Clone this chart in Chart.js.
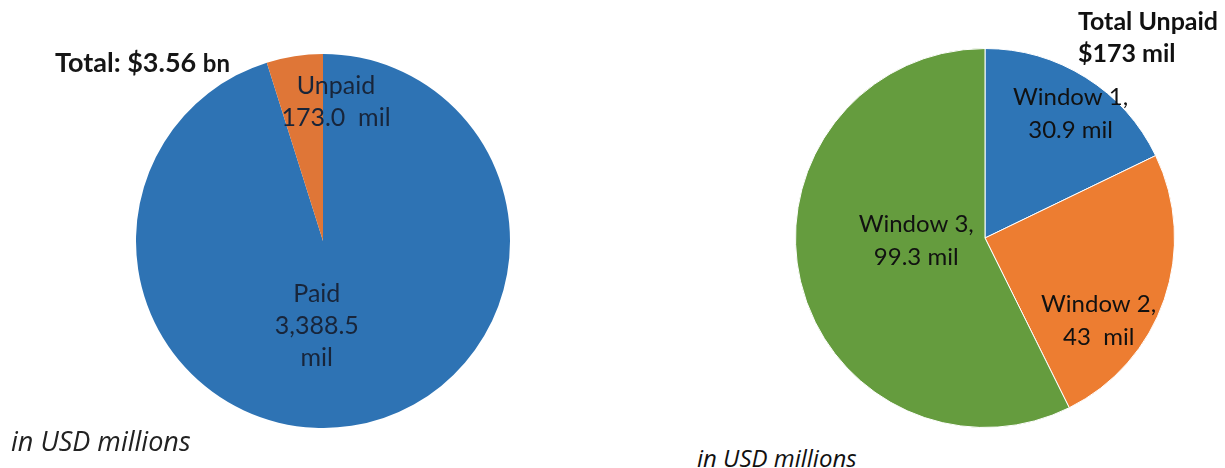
<!DOCTYPE html>
<html>
<head>
<meta charset="utf-8">
<script src="https://cdn.jsdelivr.net/npm/chart.js@4"></script>
<style>
  body { margin: 0; background: #fff; width: 1225px; height: 468px; position: relative; overflow: hidden; font-family: Lato, sans-serif; }
  .box { position: absolute; }
  .txt { position: absolute; white-space: nowrap; color: #111; }
</style>
</head>
<body>
<div class="box" style="left:136px; top:54px; width:374px; height:374px;"><canvas id="leftPie"></canvas></div>
<div class="box" style="left:795px; top:48px; width:380px; height:380px;"><canvas id="rightPie"></canvas></div>

<div class="txt" style="left:55px; top:45px; font-weight:bold; font-size:27px; color:#161616;">Total: $3.56 <span style="font-size:24px">bn</span></div>
<div class="txt" style="left:11px; top:422px; font-family:'Open Sans'; font-style:italic; font-size:27px; color:#222;">in USD millions</div>
<div class="txt" style="left:1078px; top:4px; font-weight:bold; font-size:25px; line-height:32px;">Total Unpaid<br>$173 mil</div>
<div class="txt" style="left:697px; top:441px; font-family:'Open Sans'; font-style:italic; font-size:24px;">in USD millions</div>

<script>
// left pie: paid vs unpaid (USD millions)
const payCats = ['Paid', 'Unpaid'];
const payValues = [3388.5, 173.0];
const payLabels = [['Paid', '3,388.5', 'mil'], ['Unpaid', '173.0  mil']];

// right pie: unpaid by window
const windowCats = ['Window 1', 'Window 2', 'Window 3'];
const windowValues = [30.9, 43, 99.3];
const windowLabels = [['Window 1,', '30.9 mil'], ['Window 2,', '43  mil'], ['Window 3,', '99.3 mil']];

// label placement: fraction of radius + small nudge
const sliceText = {
  id: 'sliceText',
  afterDatasetsDraw(chart, args, opts) {
    const ctx = chart.ctx;
    const arcs = chart.getDatasetMeta(0).data;
    ctx.save();
    ctx.font = opts.font;
    ctx.fillStyle = opts.color;
    ctx.textAlign = 'center';
    ctx.textBaseline = 'middle';
    arcs.forEach(function(arc, i) {
      const p = opts.place[i];
      const a = (arc.startAngle + arc.endAngle) / 2;
      const r = arc.outerRadius * p.f;
      const x = arc.x + Math.cos(a) * r + p.dx;
      const y = arc.y + Math.sin(a) * r + p.dy;
      const lines = opts.lines[i];
      const top = y - (lines.length - 1) * opts.lineH / 2;
      lines.forEach(function(t, j) {
        ctx.fillText(t, x, top + j * opts.lineH);
      });
    });
    ctx.restore();
  }
};

new Chart(document.getElementById('leftPie'), {
  type: 'pie',
  data: {
    labels: payCats,
    datasets: [{
      data: payValues,
      backgroundColor: ['#2E73B4', '#DF7637'],
      borderWidth: 0
    }]
  },
  options: {
    responsive: true,
    maintainAspectRatio: false,
    animation: false,
    plugins: {
      legend: { display: false },
      tooltip: { enabled: false },
      sliceText: {
        font: '25px Lato',
        color: '#18253a',
        lineH: 32,
        lines: payLabels,
        place: [{ f: 0.45, dx: -19, dy: 2 }, { f: 0.74, dx: 34, dy: -2 }]
      }
    }
  },
  plugins: [sliceText]
});

new Chart(document.getElementById('rightPie'), {
  type: 'pie',
  data: {
    labels: windowCats,
    datasets: [{
      data: windowValues,
      backgroundColor: ['#2E75B6', '#ED7D31', '#659C3E'],
      borderColor: '#ffffff',
      borderWidth: 1
    }]
  },
  options: {
    responsive: true,
    maintainAspectRatio: false,
    animation: false,
    plugins: {
      legend: { display: false },
      tooltip: { enabled: false },
      sliceText: {
        font: '24px Lato',
        color: '#111',
        lineH: 33,
        lines: windowLabels,
        place: [{ f: 0.8, dx: 5, dy: 4 }, { f: 0.74, dx: -19, dy: 37 }, { f: 0.4, dx: 5, dy: -15 }]
      }
    }
  },
  plugins: [sliceText]
});
</script>
</body>
</html>
